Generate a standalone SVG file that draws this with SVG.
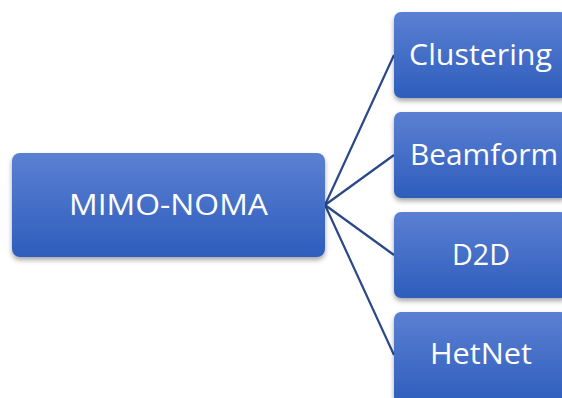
<svg xmlns="http://www.w3.org/2000/svg" width="562" height="398" viewBox="0 0 562 398">
<defs>
<linearGradient id="g" x1="0" y1="0" x2="0" y2="1">
<stop offset="0" stop-color="#5B80D2"/>
<stop offset="1" stop-color="#2E5DBD"/>
</linearGradient>
<filter id="sh" x="-10%" y="-10%" width="120%" height="130%">
<feDropShadow dx="0" dy="3" stdDeviation="2.5" flood-color="#000" flood-opacity="0.35"/>
</filter>
</defs>
<style>
.box{fill:url(#g);filter:url(#sh)}
.t{font-family:"Open Sans","Noto Sans",sans-serif;fill:#fff;font-size:29px}
.c{stroke:#2A4888;stroke-width:2.2;fill:none}
</style>
<rect width="562" height="398" fill="#fff"/>
<g id="connectors">
<line class="c" x1="325" y1="205" x2="394" y2="55"/>
<line class="c" x1="325" y1="205" x2="394" y2="155"/>
<line class="c" x1="325" y1="205" x2="394" y2="255"/>
<line class="c" x1="325" y1="205" x2="394" y2="355"/>
</g>
<g id="mimo-noma">
<rect class="box" x="12" y="153" width="313" height="104" rx="8"/>
<text class="t" x="69" y="215" textLength="199" lengthAdjust="spacingAndGlyphs">MIMO-NOMA</text>
</g>
<g id="clustering">
<rect class="box" x="394" y="12" width="174" height="86" rx="7"/>
<text class="t" x="409" y="65" textLength="143" lengthAdjust="spacingAndGlyphs">Clustering</text>
</g>
<g id="beamforming">
<rect class="box" x="394" y="112" width="174" height="86" rx="7"/>
<text class="t" x="410" y="165" textLength="148" lengthAdjust="spacingAndGlyphs">Beamform</text>
</g>
<g id="d2d">
<rect class="box" x="394" y="212" width="174" height="86" rx="7"/>
<text class="t" x="452" y="265" textLength="58" lengthAdjust="spacingAndGlyphs">D2D</text>
</g>
<g id="hetnet">
<rect class="box" x="394" y="312" width="174" height="92" rx="7"/>
<text class="t" x="430" y="364" textLength="102" lengthAdjust="spacingAndGlyphs">HetNet</text>
</g>
</svg>
